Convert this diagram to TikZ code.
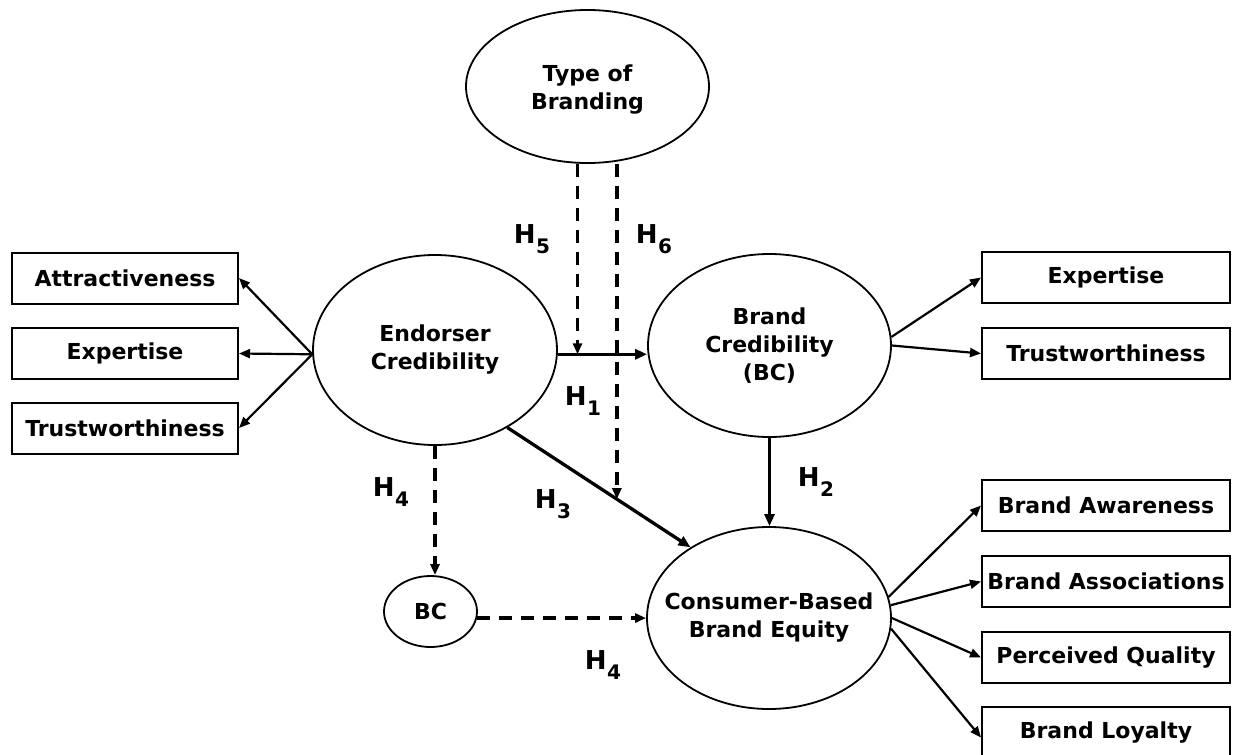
\documentclass[tikz,border=0pt]{standalone}
\usepackage{fontspec}
\setmainfont{DejaVu Sans}
\usetikzlibrary{shapes.geometric,arrows.meta}
\newcommand\HypLab[1]{{\fontsize{26}{26}\selectfont H\kern0.5pt\raisebox{-10pt}{\fontsize{20}{20}\selectfont #1}}}
\begin{document}
\begin{tikzpicture}[x=1pt,y=-1pt,
  every node/.style={font=\fontsize{22}{28}\selectfont\bfseries},
  ell/.style={draw, ellipse, line width=1.8pt, inner sep=0pt},
  box/.style={draw, rectangle, line width=2pt, inner sep=0pt, minimum height=51pt},
  lbox/.style={box, minimum width=226pt},
  rbox/.style={box, minimum width=248pt},
  arr/.style={line width=2.2pt, -{Triangle[length=11pt,width=9pt]}},
  thickarr/.style={line width=3.3pt, -{Triangle[length=12pt,width=10pt]}},
  midarr/.style={line width=2.7pt, -{Triangle[length=12pt,width=10pt]}},
  dasharr/.style={line width=3.4pt, dash pattern=on 13pt off 9pt, -{Triangle[length=11pt,width=9pt]}},
  hlab/.style={inner sep=0pt},
  ctext/.style={align=center, inner sep=0pt}
]
\clip (0,0) rectangle (1235,755);

% ellipses
\node[ell, minimum width=243pt, minimum height=153pt,
  label={[ctext,name=tobT,yshift=-3pt]center:Type of\\Branding}] (tob) at (587.5,86.5) {};
\node[ell, minimum width=244pt, minimum height=190pt,
  label={[ctext,name=ecT]center:Endorser\\Credibility}] (ec) at (435,350) {};
\node[ell, minimum width=243pt, minimum height=183pt,
  label={[ctext,name=bcT]center:Brand\\Credibility\\(BC)}] (bc) at (769.5,345.5) {};
\node[ell, minimum width=244pt, minimum height=182pt,
  label={[ctext,name=cbbeT]center:Consumer-Based\\Brand Equity}] (cbbe) at (769,618) {};
\node[ell, minimum width=93pt, minimum height=71pt,
  label={[ctext,name=bcsT]center:BC}] (bcs) at (430.5,611.5) {};

% left boxes
\node[lbox] (attr) at (125,278) {Attractiveness};
\node[lbox] (exp1) at (125,353.5) {Expertise};
\node[lbox] (trust1) at (125,428) {Trustworthiness};

% right boxes
\node[rbox] (exp2) at (1106,277.5) {Expertise};
\node[rbox] (trust2) at (1106,353.5) {Trustworthiness};
\node[rbox] (aware) at (1106,505.5) {Brand Awareness};
\node[rbox] (assoc) at (1106,581.5) {Brand Associations};
\node[rbox] (qual) at (1106,657.5) {Perceived Quality};
\node[rbox] (loy) at (1106,732.5) {Brand Loyalty};

% indicator arrows
\draw[arr] (ec.182) -- (attr.east);
\draw[arr] (ec.182) -- (exp1.east);
\draw[arr] (ec.182) -- (trust1.east);
\draw[arr] (bc.4) -- (exp2.west);
\draw[arr] (bc.east) -- (trust2.west);
\draw[arr] (cbbe.10) -- (aware.west);
\draw[arr] (cbbe.6) -- (assoc.west);
\draw[arr] (cbbe.east) -- (qual.west);
\draw[arr] (cbbe.-5) -- ([yshift=-5pt]loy.west);

% structural paths
\draw[thickarr] (ec.-2) -- coordinate[pos=0.221] (h5end) (ec.-2 -| bc.west);
\draw[thickarr] (ec.-47) -- coordinate[pos=0.598] (h6end) (cbbe.138);
\draw[midarr] (bc.south) -- (bc.south |- cbbe.north);
\draw[dasharr] (tob.south -| h5end) -- (h5end);
\draw[dasharr] (tob.south -| h6end) -- (h6end);
\draw[dasharr] (ec.south) -- (ec.south |- bcs.north);
\draw[dasharr] (bcs.-8) -- (bcs.-8 -| cbbe.west);

% hypothesis labels
\node[hlab] (h5) at (532,239) {\HypLab{5}};
\node[hlab] (h6) at (654,239) {\HypLab{6}};
\node[hlab] (h1) at (583,401) {\HypLab{1}};
\node[hlab] (h4a) at (391,492) {\HypLab{4}};
\node[hlab] (h3) at (553,504) {\HypLab{3}};
\node[hlab] (h2) at (816,482) {\HypLab{2}};
\node[hlab] (h4b) at (603,665) {\HypLab{4}};
\end{tikzpicture}
\end{document}
